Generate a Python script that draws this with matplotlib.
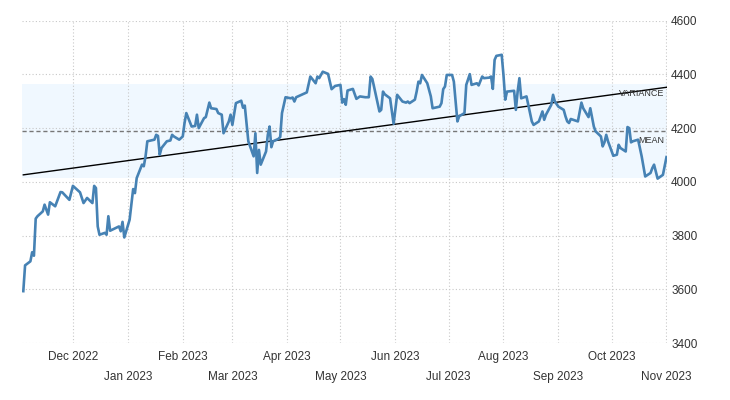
"""Euro Stoxx 50-style daily chart, Nov 2022 - Nov 2023, with mean / variance band and trend line."""
import numpy as np
import pandas as pd
import matplotlib as mpl
mpl.use("Agg")
import matplotlib.pyplot as plt
import matplotlib.dates as mdates

FONT = ["Liberation Sans Narrow", "Liberation Sans", "DejaVu Sans"]

DATES = [
    "2022-11-03", "2022-11-04", "2022-11-07", "2022-11-08", "2022-11-09", "2022-11-10",
    "2022-11-11", "2022-11-14", "2022-11-15", "2022-11-17", "2022-11-18", "2022-11-21",
    "2022-11-24", "2022-11-25", "2022-11-29", "2022-12-01", "2022-12-05", "2022-12-07",
    "2022-12-09", "2022-12-12", "2022-12-13", "2022-12-14", "2022-12-15", "2022-12-16",
    "2022-12-19", "2022-12-20", "2022-12-21", "2022-12-22", "2022-12-27", "2022-12-28",
    "2022-12-29", "2022-12-30",
    "2023-01-02", "2023-01-04", "2023-01-05", "2023-01-06", "2023-01-09", "2023-01-10",
    "2023-01-11", "2023-01-12", "2023-01-16", "2023-01-17", "2023-01-18", "2023-01-19",
    "2023-01-20", "2023-01-23", "2023-01-25", "2023-01-26", "2023-01-27", "2023-01-30",
    "2023-02-01", "2023-02-02", "2023-02-03", "2023-02-06", "2023-02-08", "2023-02-09",
    "2023-02-10", "2023-02-13", "2023-02-14", "2023-02-16", "2023-02-17", "2023-02-20",
    "2023-02-21", "2023-02-23", "2023-02-24", "2023-02-27", "2023-02-28",
    "2023-03-01", "2023-03-03", "2023-03-06", "2023-03-07", "2023-03-08", "2023-03-09",
    "2023-03-10", "2023-03-13", "2023-03-14", "2023-03-15", "2023-03-16", "2023-03-17",
    "2023-03-20", "2023-03-21", "2023-03-22", "2023-03-23", "2023-03-24", "2023-03-27",
    "2023-03-28", "2023-03-29", "2023-03-31",
    "2023-04-03", "2023-04-04", "2023-04-05", "2023-04-06", "2023-04-12", "2023-04-14",
    "2023-04-17", "2023-04-18", "2023-04-19", "2023-04-21", "2023-04-24", "2023-04-26",
    "2023-04-28",
    "2023-05-01", "2023-05-02", "2023-05-03", "2023-05-04", "2023-05-05", "2023-05-08",
    "2023-05-10", "2023-05-12", "2023-05-15", "2023-05-17", "2023-05-18", "2023-05-19",
    "2023-05-23", "2023-05-24", "2023-05-25", "2023-05-26", "2023-05-29", "2023-05-31",
    "2023-06-02", "2023-06-05", "2023-06-07", "2023-06-08", "2023-06-09", "2023-06-12",
    "2023-06-13", "2023-06-14", "2023-06-15", "2023-06-16", "2023-06-19", "2023-06-21",
    "2023-06-22", "2023-06-26", "2023-06-27", "2023-06-28", "2023-06-29", "2023-06-30",
    "2023-07-03", "2023-07-04", "2023-07-06", "2023-07-07", "2023-07-10", "2023-07-11",
    "2023-07-13", "2023-07-14", "2023-07-17", "2023-07-18", "2023-07-20", "2023-07-21",
    "2023-07-24", "2023-07-25", "2023-07-26", "2023-07-27", "2023-07-28", "2023-07-31",
    "2023-08-01", "2023-08-02", "2023-08-03", "2023-08-07", "2023-08-08", "2023-08-09",
    "2023-08-10", "2023-08-11", "2023-08-14", "2023-08-15", "2023-08-17", "2023-08-18",
    "2023-08-21", "2023-08-23", "2023-08-24", "2023-08-25", "2023-08-28", "2023-08-29",
    "2023-08-30", "2023-09-01", "2023-09-04", "2023-09-05", "2023-09-06", "2023-09-07",
    "2023-09-08", "2023-09-12", "2023-09-14", "2023-09-15", "2023-09-18", "2023-09-19",
    "2023-09-21", "2023-09-22", "2023-09-25", "2023-09-26", "2023-09-27", "2023-09-28",
    "2023-09-29", "2023-10-02", "2023-10-04", "2023-10-05", "2023-10-06", "2023-10-09",
    "2023-10-10", "2023-10-11", "2023-10-12", "2023-10-13", "2023-10-16", "2023-10-18",
    "2023-10-20", "2023-10-23", "2023-10-24", "2023-10-25", "2023-10-27", "2023-10-30",
    "2023-11-01",
]
VALUES = [
    3593, 3689, 3704, 3738, 3725, 3863,
    3872, 3890, 3915, 3878, 3924, 3909,
    3962, 3961, 3933, 3985, 3961, 3921,
    3940, 3921, 3985, 3977, 3834, 3803,
    3810, 3803, 3872, 3818, 3834, 3816,
    3851, 3793,
    3859, 3973, 3958, 4014, 4064, 4058,
    4095, 4151, 4157, 4175, 4171, 4101,
    4126, 4151, 4154, 4175, 4169, 4157,
    4169, 4219, 4256, 4206, 4208, 4250,
    4200, 4237, 4241, 4295, 4274, 4271,
    4256, 4250, 4181, 4225, 4250,
    4212, 4293, 4302, 4276, 4284, 4219,
    4151, 4095, 4181, 4033, 4119, 4064,
    4113, 4175, 4206, 4129, 4151, 4160,
    4167, 4256, 4315,
    4311, 4314, 4299, 4315, 4333, 4392,
    4367, 4392, 4386, 4410, 4402, 4345,
    4357,
    4361, 4295, 4308, 4287, 4340, 4346,
    4309, 4318, 4315, 4315, 4392, 4383,
    4262, 4268, 4336, 4326, 4311, 4216,
    4324, 4299, 4295, 4299, 4293, 4306,
    4336, 4373, 4367, 4398, 4367, 4318,
    4274, 4280, 4293, 4345, 4355, 4398,
    4398, 4373, 4225, 4244, 4256, 4361,
    4401, 4361, 4367, 4359, 4392, 4386,
    4388, 4392, 4346, 4454, 4469, 4473,
    4398, 4306, 4336, 4339, 4268, 4336,
    4386, 4311, 4318, 4287, 4225, 4212,
    4225, 4262, 4231, 4250, 4287, 4324,
    4299, 4280, 4268, 4244, 4225, 4219,
    4234, 4225, 4295, 4274, 4241, 4274,
    4206, 4188, 4169, 4132, 4147, 4175,
    4151, 4097, 4101, 4138, 4126, 4113,
    4204, 4200, 4147, 4151, 4157, 4095,
    4020, 4033, 4051, 4064, 4012, 4026,
    4092,
]

MEAN = 4190
BAND = (4016, 4365)          # mean +/- one std, as drawn
TREND = (4026, 4352)         # trend line value at first / last date

MONTHS = pd.date_range("2022-12-01", "2023-11-01", freq="MS")
YTICKS = [3400, 3600, 3800, 4000, 4200, 4400, 4600]

LINE = "#4682B4"
GRID = "#c8c8c8"
TXT = "#333333"

dates = pd.to_datetime(DATES)

fig = plt.figure(figsize=(7.3, 4.0), dpi=100)
ax = fig.add_axes([0.0301, 0.1425, 0.8836, 0.8058])

ax.axhspan(BAND[0], BAND[1], color="#F0F8FF", zorder=0, lw=0)
ax.axhline(MEAN, color="#777777", ls=(0, (3, 2)), lw=1.0, zorder=2)
ax.plot([dates[0], dates[-1]], TREND, color="black", lw=1.0, zorder=3)
ax.plot(dates, VALUES, color=LINE, lw=1.9, zorder=4, solid_joinstyle="round")

ax.set_ylim(3400, 4600)
ax.set_xlim(mdates.date2num(pd.Timestamp("2022-11-02")) + 0.25,
            mdates.date2num(pd.Timestamp("2023-11-01")) + 0.3)

ax.set_yticks(YTICKS)
ax.yaxis.tick_right()
ax.tick_params(axis="y", length=0, pad=3, labelsize=8.5, labelcolor=TXT)
for lab in ax.get_yticklabels():
    lab.set_family(FONT)

# alternate months on two rows: even ones as major ticks, odd ones as minor ticks lower down
top_row = MONTHS[::2]
low_row = MONTHS[1::2]
ax.set_xticks(top_row)
ax.set_xticklabels([m.strftime("%b %Y") for m in top_row])
ax.set_xticks(low_row, minor=True)
ax.set_xticklabels([m.strftime("%b %Y") for m in low_row], minor=True)
ax.tick_params(axis="x", which="major", length=0, pad=6, labelsize=8.5, labelcolor=TXT)
ax.tick_params(axis="x", which="minor", length=0, pad=20, labelsize=8.5, labelcolor=TXT)
for lab in ax.get_xticklabels() + ax.get_xticklabels(minor=True):
    lab.set_family(FONT)

ax.grid(True, which="both", axis="x", color=GRID, ls=(0, (1, 2)), lw=0.8, zorder=1)
ax.grid(True, axis="y", color=GRID, ls=(0, (1, 2)), lw=0.8, zorder=1)
for s in ax.spines.values():
    s.set_visible(False)

ax.annotate("VARIANCE", xy=(1, BAND[1]), xycoords=("axes fraction", "data"),
            xytext=(-2, -4), textcoords="offset points", ha="right", va="top",
            fontsize=6.5, color=TXT, family=FONT, zorder=5)
ax.annotate("MEAN", xy=(1, MEAN), xycoords=("axes fraction", "data"),
            xytext=(-2, -4), textcoords="offset points", ha="right", va="top",
            fontsize=6.5, color=TXT, family=FONT, zorder=5)

fig.savefig("out.png", dpi=100)
